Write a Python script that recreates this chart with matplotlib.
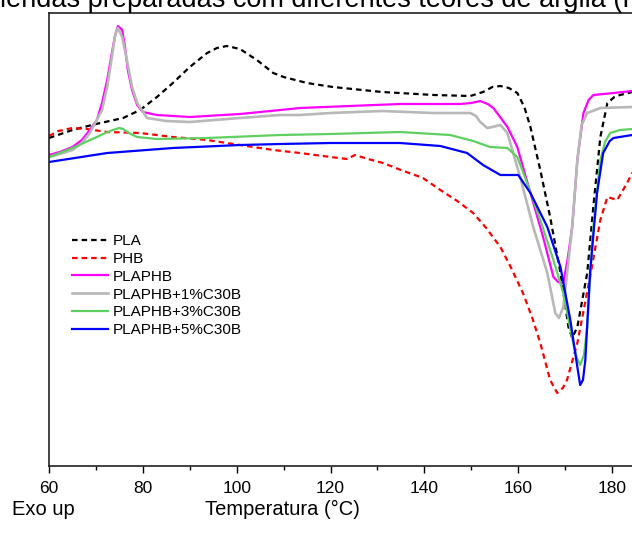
"""
DSC curves (Exo up) for PLA, PHB and PLA/PHB blends with C30B clay.
Values read off the reference picture; heat flow in arbitrary units.
"""

import matplotlib

matplotlib.use("Agg")
import matplotlib.pyplot as plt

plt.rcParams["font.family"] = ["Liberation Sans", "DejaVu Sans"]

# --- data (temperature in °C, heat flow in a.u., exo up) ---
pla_t = [60, 65, 70, 75.8, 79.4, 83, 86.4, 90, 93.7, 95.8, 97.9, 100.7, 104.3, 107.8, 110,
         115, 120.5, 131, 142, 149.8, 152.5, 154.5, 156.2, 158, 159.8, 161.3, 162.6, 164.7,
         166.8, 169, 170.7, 171.5, 172.6, 174.7, 176, 177.5, 179, 180.5, 181.7, 184.3, 190]
pla_q = [328, 336, 342, 348, 356, 369, 383, 399, 413, 418, 420, 417, 406, 393, 389,
         383, 379, 374, 371, 370, 374, 379, 380, 378, 373, 359, 339, 296,
         249, 193, 139, 128, 139, 193, 259, 329, 363, 369, 371, 374, 375]

phb_t = [60, 62, 65, 68, 72.4, 79.4, 86.4, 93.7, 100.7, 107.8, 113.5, 120, 123.5, 125.2,
         128, 131.2, 135, 139.7, 143.4, 147, 150.4, 153, 156.2, 158.5, 161, 163, 164.7,
         166.8, 168.3, 169.5, 170.4, 172.6, 175.3, 177.5, 179, 181.1, 183.2, 184.3, 186]
phb_q = [330, 335, 338, 337, 334, 333, 329, 326, 321, 316, 313, 309, 307, 311,
         307, 303, 296, 288, 276, 265, 253, 239, 219, 198, 173, 148, 123,
         86, 73, 78, 86, 123, 189, 246, 269, 266, 283, 293, 301]

blend_t = [60, 62.3, 65, 67, 68.7, 70.2, 71.3, 72.4, 73.4, 74.1, 74.7, 75.6, 76.2, 76.8,
           77.7, 78.8, 80, 83, 90, 100.7, 109.3, 113.5, 124, 134.8, 147.6, 150, 151.9,
           153.5, 154.7, 157.7, 159.8, 162.6, 165.3, 167.5, 168.5, 169.6, 170.5, 171.5,
           172.6, 173.9, 175, 176, 180.3, 184.3, 190]
blend_q = [311, 314, 319, 326, 336, 346, 363, 386, 413, 431, 440, 436, 419, 396,
           376, 361, 354, 351, 349, 352, 356, 358, 360, 362, 362, 363, 365,
           362, 358, 339, 319, 273, 229, 189, 184, 183, 206, 239,
           306, 353, 366, 371, 373, 375, 376]

c1_t = [60, 62.3, 65, 67, 68.7, 71.3, 72.4, 73.4, 74.1, 74.7, 75.6, 76.6, 77.7, 78.8,
        80.9, 85, 90, 100.7, 109.3, 113.5, 120, 131, 141.9, 149.8, 151, 151.9, 153.4,
        154.5, 156.2, 157.7, 160.4, 163.2, 166.2, 167.9, 168.7, 169.6, 170.5, 171.5,
        172.6, 173.5, 174.7, 177.5, 184.3, 190]
c1_q = [309, 312, 316, 323, 333, 356, 379, 409, 431, 438, 429, 406, 379, 363,
        348, 345, 344, 348, 351, 351, 353, 355, 353, 353, 350, 344, 338,
        339, 341, 333, 289, 239, 193, 153, 148, 159, 196, 239,
        306, 341, 353, 358, 359, 359]

c3_t = [60, 65, 70.2, 72, 73.6, 75, 75.8, 77, 78.8, 83, 93.7, 109.3, 120, 134.8, 145.5,
        150.4, 154, 157.7, 159.8, 161.9, 164.7, 167.5, 169.6, 171.7, 172.5, 173.2, 174,
        174.7, 176, 177.5, 178.5, 179.6, 181.7, 184.3, 190]
c3_q = [309, 318, 329, 333, 336, 338, 337, 333, 329, 327, 328, 331, 332, 334, 331,
        325, 319, 318, 309, 283, 246, 206, 173, 123, 108, 101, 111,
        139, 239, 306, 324, 333, 336, 337, 337]

c5_t = [60, 72.4, 86.4, 100.7, 109.3, 120, 134.8, 143.4, 149.1, 152.5, 156.2, 160, 162.6,
        166.2, 169, 171.1, 172.6, 173.2, 173.8, 174.3, 175.3, 176.8, 178.1, 179.5, 180.3,
        184.3, 190]
c5_q = [304, 313, 318, 321, 322, 323, 323, 320, 313, 301, 291, 291, 273,
        239, 199, 146, 99, 81, 86, 106, 193, 273, 313, 325, 328,
        331, 332]

labels = ["PLA", "PHB", "PLAPHB", "PLAPHB+1%C30B", "PLAPHB+3%C30B", "PLAPHB+5%C30B"]


def main() -> None:
    fig = plt.figure(figsize=(6.32, 5.38), dpi=100)
    # axes run past the right edge, as in the (cropped) original
    ax = fig.add_axes([49 / 632, 72 / 538, 610 / 632, 453 / 538])

    dash = (0, (2.5, 1.8))
    ax.plot(pla_t, pla_q, color="black", lw=1.6, linestyle=dash, label=labels[0])
    ax.plot(phb_t, phb_q, color="#ff0000", lw=1.6, linestyle=dash, label=labels[1])
    ax.plot(blend_t, blend_q, color="#ff00ff", lw=1.6, label=labels[2])
    ax.plot(c1_t, c1_q, color="#b8b8b8", lw=1.9, label=labels[3])
    ax.plot(c3_t, c3_q, color="#5fcf5f", lw=1.6, label=labels[4])
    ax.plot(c5_t, c5_q, color="#0000ff", lw=1.6, label=labels[5])

    ax.set_xlim(60, 190)
    ax.set_ylim(0, 453)
    ax.set_xticks([60, 80, 100, 120, 140, 160, 180])
    ax.set_xticks([70, 90, 110, 130, 150, 170], minor=True)
    ax.tick_params(axis="x", which="major", direction="out", length=5, width=1,
                   labelsize=12.5, pad=6)
    ax.tick_params(axis="x", which="minor", direction="out", length=3, width=1)
    ax.set_yticks([])
    for side in ("left", "top", "bottom", "right"):
        ax.spines[side].set_linewidth(1.2)
        ax.spines[side].set_color("#222222")

    ax.legend(loc="upper left", bbox_to_anchor=(23 / 610, 0.512), frameon=False,
              fontsize=11, borderpad=0, borderaxespad=0, handlelength=2.35,
              handletextpad=0.35, labelspacing=0.25)

    fig.text(-18 / 632, 1 - 7 / 538, "Blendas preparadas com diferentes teores de argila (PLA/PHB/C30B)",
             fontsize=19.5, ha="left", va="baseline")
    fig.text(282 / 632, 23 / 538, "Temperatura (°C)", fontsize=14.5, ha="center", va="baseline")
    fig.text(12 / 632, 23 / 538, "Exo up", fontsize=14.5, ha="left", va="baseline")

    fig.savefig("out.png", dpi=100)
    plt.close(fig)


if __name__ == "__main__":
    main()
